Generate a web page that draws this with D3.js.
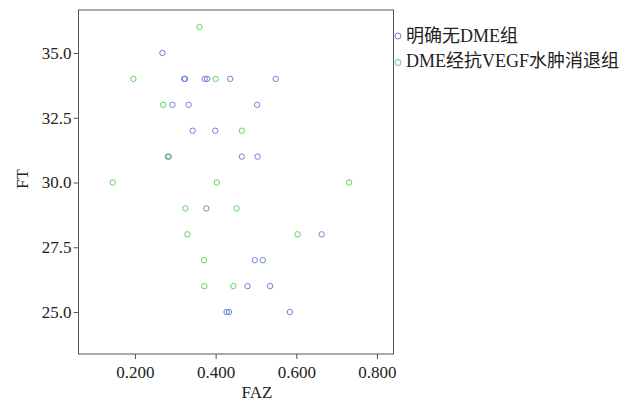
<!DOCTYPE html>
<html>
<head>
<meta charset="utf-8">
<script src="https://cdn.jsdelivr.net/npm/d3@7"></script>
<style>
body { margin:0; background:#fff; }
text { font-family: "Liberation Serif", "Noto Sans CJK SC", serif; fill:#222; }
</style>
</head>
<body>
<div id="chart-area"></div>
<script>
// group names
var groups = ["明确无DME组", "DME经抗VEGF水肿消退组"];
var colors = ["#6b84d6", "#5ed45e"];

// 明确无DME组
var blueFAZ = [0.268, 0.322, 0.324, 0.373, 0.379, 0.436, 0.549, 0.293, 0.333, 0.503,
    0.343, 0.399, 0.284, 0.465, 0.504, 0.377, 0.663, 0.497, 0.517, 0.479, 0.535,
    0.427, 0.433, 0.584];
var blueFT = [35, 34, 34, 34, 34, 34, 34, 33, 33, 33,
    32, 32, 31, 31, 31, 29, 28, 27, 27, 26, 26,
    25, 25, 25];

// DME经抗VEGF水肿消退组
var greenFAZ = [0.360, 0.196, 0.400, 0.270, 0.465, 0.281, 0.145, 0.403, 0.731,
    0.325, 0.452, 0.330, 0.603, 0.371, 0.372, 0.444];
var greenFT = [36, 34, 34, 33, 32, 31, 30, 30, 30,
    29, 29, 28, 28, 27, 26, 26];

var xTicks = [0.2, 0.4, 0.6, 0.8];
var yTicks = [25.0, 27.5, 30.0, 32.5, 35.0];

var margin = { left:78.5, right:241.5, top:10, bottom:47 };
var width = 635 - margin.left - margin.right,
    height = 401 - margin.top - margin.bottom;

var svg = d3.select("#chart-area")
    .append("svg")
        .attr("width", 635)
        .attr("height", 401);
var g = svg.append("g")
    .attr("transform", "translate(" + margin.left + "," + margin.top + ")");

// Scales
var x = d3.scaleLinear().domain([0.060, 0.841]).range([0, width]);
var y = d3.scaleLinear().domain([23.38, 36.66]).range([height, 0]);

// frame
g.append("rect")
    .attr("width", width)
    .attr("height", height)
    .attr("fill", "none")
    .attr("stroke", "#555")
    .attr("stroke-width", 1);

// X Axis
var xAxis = g.append("g")
    .attr("transform", "translate(0," + height + ")")
    .call(d3.axisBottom(x).tickValues(xTicks).tickSize(5).tickSizeOuter(0)
        .tickFormat(d3.format(".3f")));
xAxis.select(".domain").remove();
xAxis.selectAll("line").attr("stroke", "#555");
xAxis.selectAll("text").attr("font-size", "17px").attr("y", 24).attr("dy", 0).attr("fill", "#222");

// Y Axis
var yAxis = g.append("g")
    .call(d3.axisLeft(y).tickValues(yTicks).tickSize(5).tickSizeOuter(0)
        .tickFormat(d3.format(".1f")));
yAxis.select(".domain").remove();
yAxis.selectAll("line").attr("stroke", "#555");
yAxis.selectAll("text").attr("font-size", "17px").attr("x", -7).attr("fill", "#222");

// Labels
g.append("text")
    .attr("x", 178.5)
    .attr("y", height + 44)
    .attr("font-size", "17px")
    .attr("text-anchor", "middle")
    .text("FAZ");
g.append("text")
    .attr("transform", "rotate(-90)")
    .attr("x", -169)
    .attr("y", -51)
    .attr("font-size", "17px")
    .attr("text-anchor", "middle")
    .text("FT");

// points
function drawPoints(xs, ys, color) {
    g.append("g").selectAll("circle")
        .data(xs.map(function(d, i) { return [d, ys[i]]; }))
        .enter()
        .append("circle")
        .attr("cx", function(d) { return x(d[0]); })
        .attr("cy", function(d) { return y(d[1]); })
        .attr("r", 2.7)
        .attr("fill", "none")
        .attr("stroke", color)
        .attr("stroke-width", 1);
}
drawPoints(greenFAZ, greenFT, colors[1]);
drawPoints(blueFAZ, blueFT, colors[0]);

// legend
var legend = svg.append("g")
    .attr("transform", "translate(398,36)");
groups.forEach(function(name, i) {
    legend.append("circle")
        .attr("cx", 0)
        .attr("cy", i * 26.5)
        .attr("r", 3)
        .attr("fill", "none")
        .attr("stroke", colors[i])
        .attr("stroke-width", 1);
    legend.append("text")
        .attr("x", 8)
        .attr("y", i * 25 + 6)
        .attr("font-size", "18px")
        .text(name);
});
</script>
</body>
</html>
